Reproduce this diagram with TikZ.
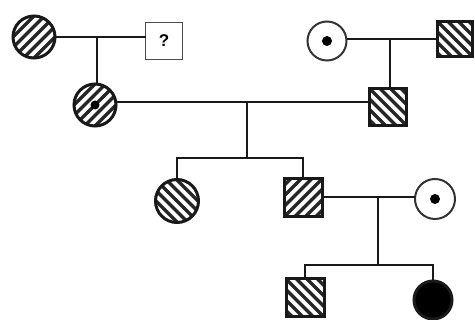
\documentclass[tikz,border=0pt]{standalone}
\usepackage{fontspec}
\setmainfont{Liberation Sans}
\begin{document}
\begin{tikzpicture}[x=1pt,y=-1pt,
  link/.style={line width=2.4pt, black!90},
  person/.style={draw=black!90, line width=3pt, inner sep=0pt, outer sep=0pt, fill=white},
  female/.style={person, circle, minimum size=#1},
  male/.style={person, rectangle, minimum size=#1},
  hatchNE/.style={path picture={\foreach \k in {-6,...,6}{\draw[line width=3.2pt, black!85] ([xshift=\k*10.5pt]path picture bounding box.center) ++(-40pt,-40pt) -- ++(80pt,80pt);}}},
  hatchNW/.style={path picture={\foreach \k in {-6,...,6}{\draw[line width=3.2pt, black!85] ([xshift=\k*10.5pt]path picture bounding box.center) ++(40pt,-40pt) -- ++(-80pt,80pt);}}},
  dotmark/.style={fill=black}]
\useasboundingbox (0,0) rectangle (475,320);

% generation I
\node[female=42pt, hatchNE] (i1) at (34,37) {};
\node[male=37pt, line width=1.8pt, draw=black!70] (i2) at (164,41) {\bfseries\fontsize{17}{17}\selectfont ?};
\node[female=39pt, line width=2pt, draw=black!80] (i3) at (327,41) {};
\node[male=35pt, hatchNW] (i4) at (455,39) {};

% generation II
\node[female=42pt, hatchNE] (ii1) at (95,105) {};
\node[male=37pt, hatchNW] (ii2) at (388,107) {};

% generation III
\node[female=43pt, hatchNW] (iii1) at (177,201) {};
\node[male=38pt, hatchNE] (iii2) at (303,198) {};
\node[female=40pt, line width=2pt, draw=black!80] (iii3) at (435,199) {};

% generation IV
\node[male=38pt, hatchNW] (iv1) at (305,298) {};
\node[female=38pt, fill=black] (iv2) at (433,300) {};

% carrier dots
\fill[dotmark] (i3.center) circle (5pt);
\fill[dotmark] (iii3.center) circle (5pt);
\fill[dotmark] (ii1.center) circle (4.5pt);

% couple I-1 / I-2 and their daughter
\coordinate (m1) at (97,37);
\draw[link] (i1.east |- m1) -- (i2.west |- m1);
\draw[link] (m1) -- (m1 |- ii1.north);

% couple I-3 / I-4 and their son
\coordinate (m2) at (390,39);
\draw[link] (i3.east |- m2) -- (i4.west |- m2);
\draw[link] (m2) -- (m2 |- ii2.north);

% couple II-1 / II-2 and their children
\coordinate (m3) at (247,102);
\coordinate (s3) at (247,158);
\draw[link] (ii1.east |- m3) -- (ii2.west |- m3);
\draw[link] (m3) -- (s3);
\draw[link] (iii1.north) -- (iii1.north |- s3) -- (iii2.north |- s3) -- (iii2.north);

% couple III-2 / III-3 and their children
\coordinate (m4) at (378,197);
\coordinate (s4) at (378,265);
\draw[link] (iii2.east |- m4) -- (iii3.west |- m4);
\draw[link] (m4) -- (s4);
\draw[link] (iv1.north) -- (iv1.north |- s4) -- (iv2.north |- s4) -- (iv2.north);
\end{tikzpicture}
\end{document}
